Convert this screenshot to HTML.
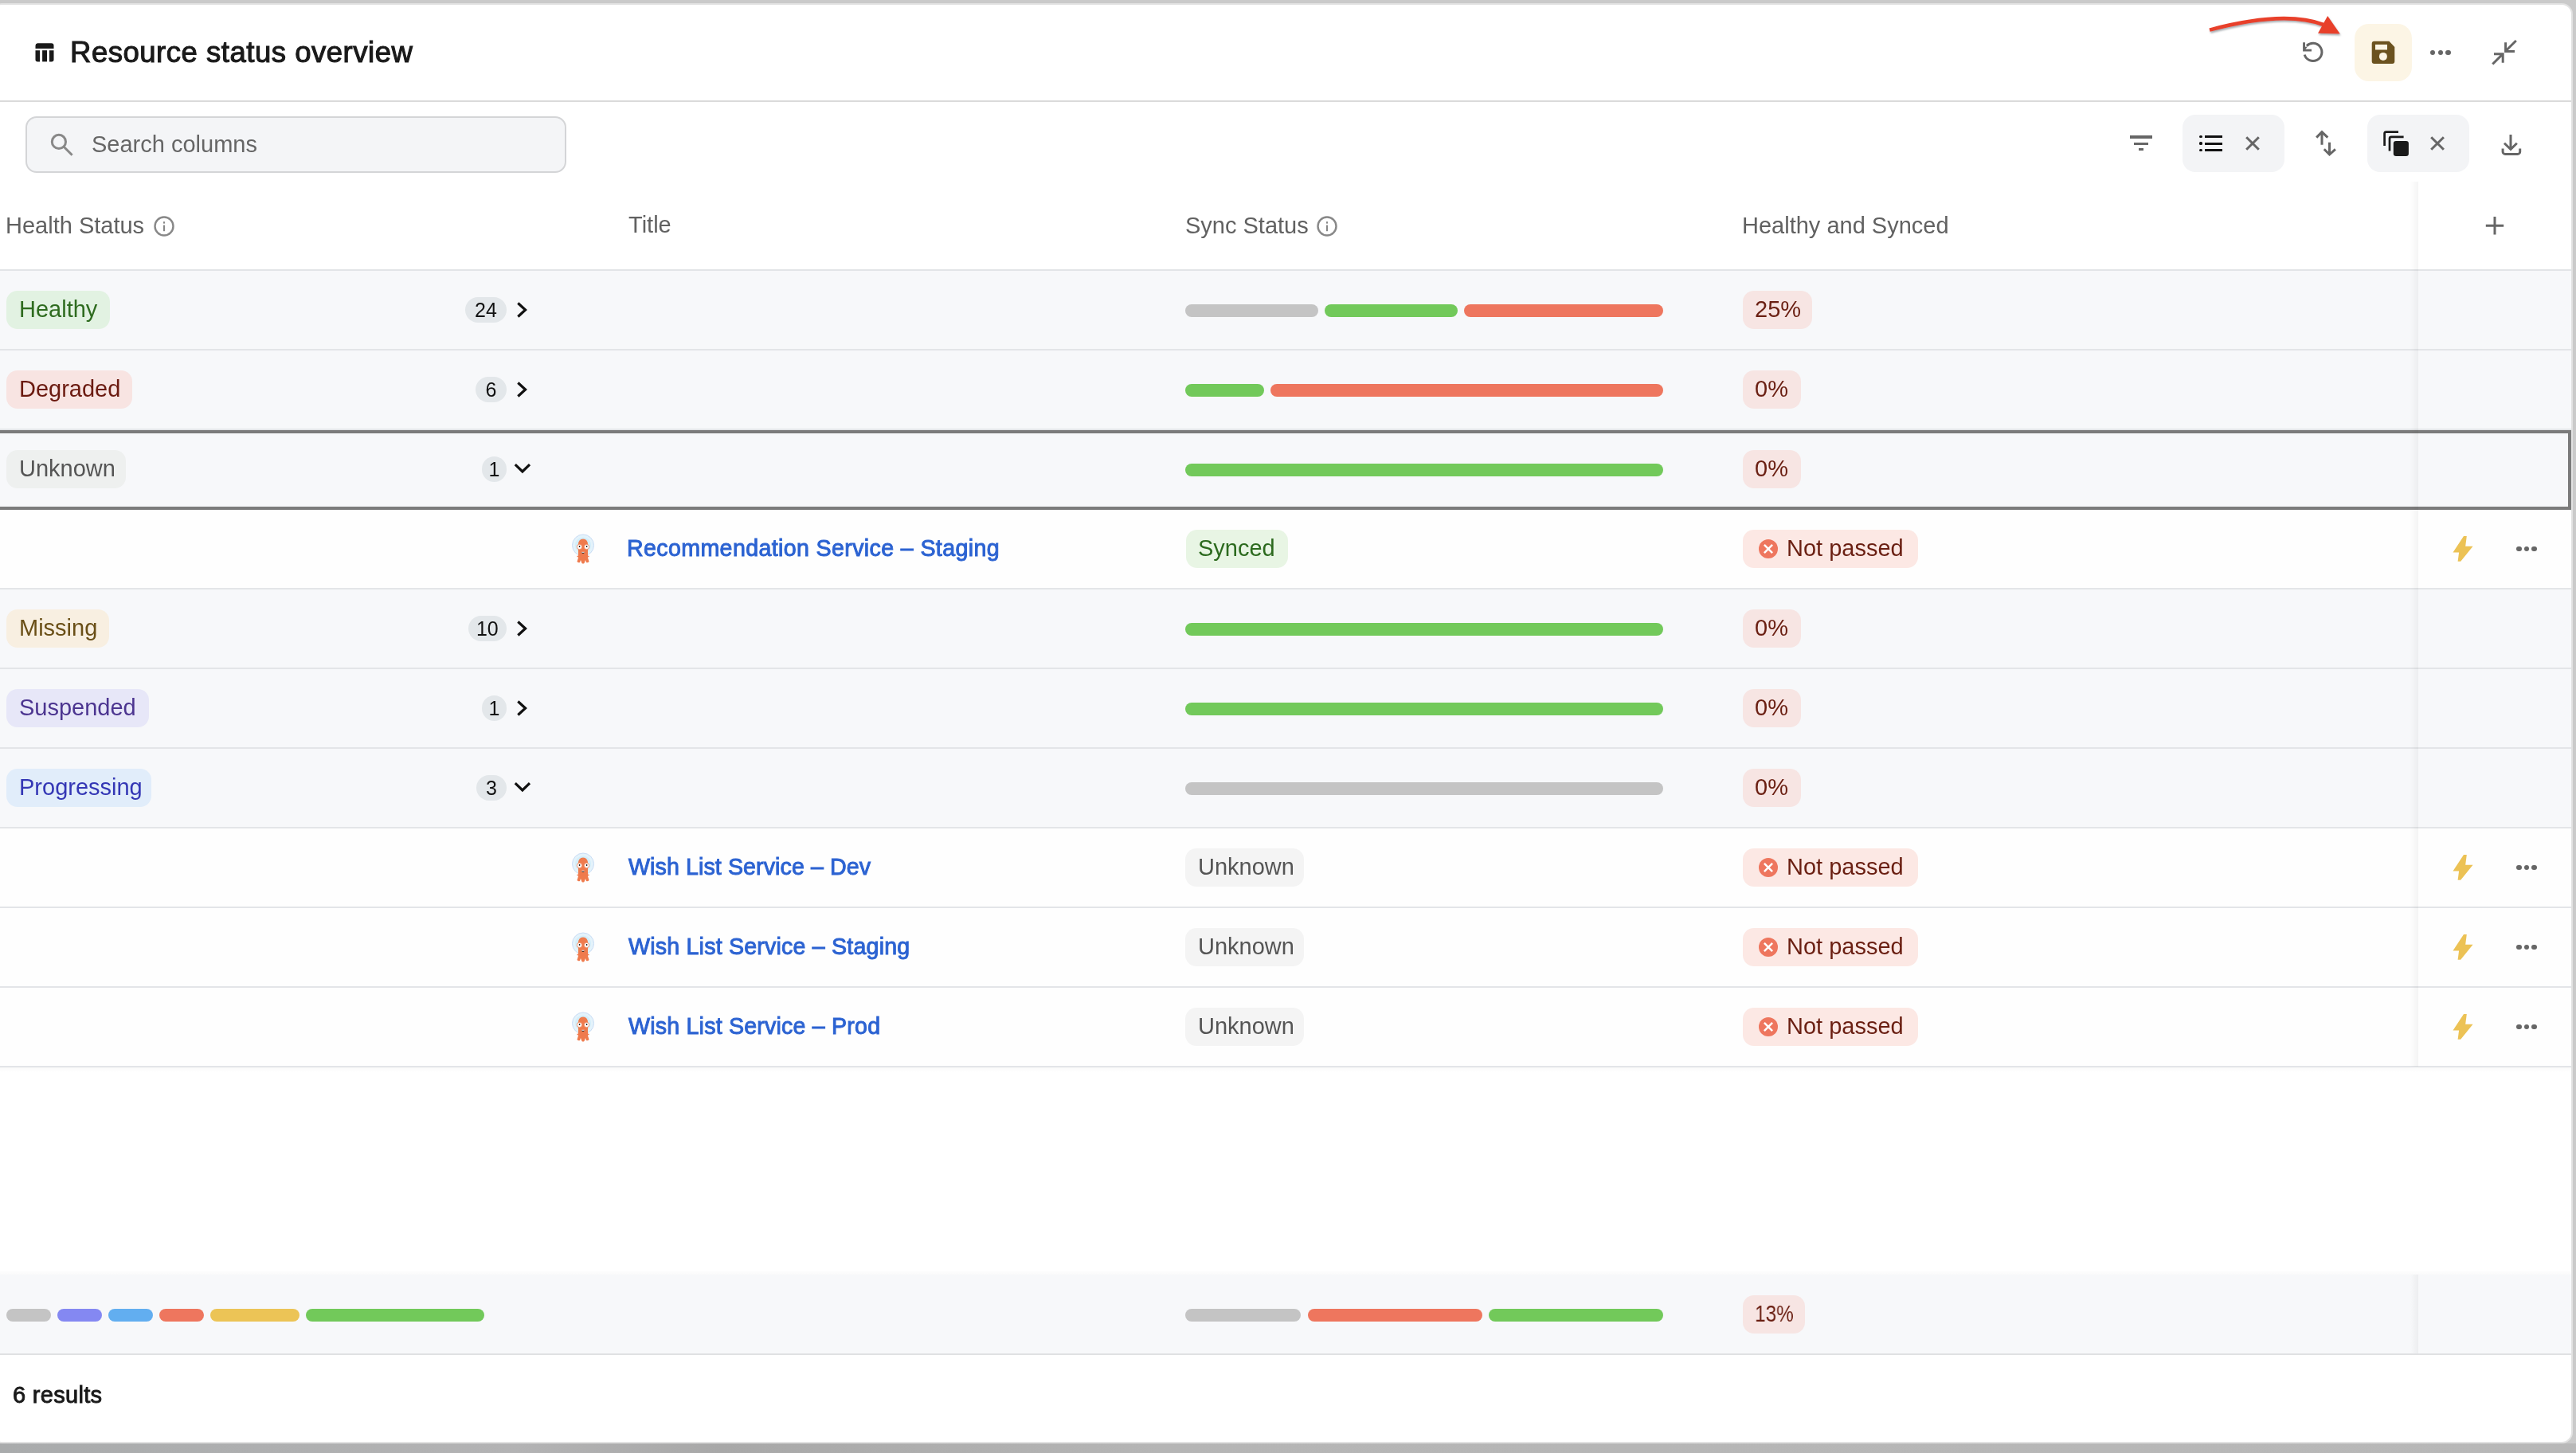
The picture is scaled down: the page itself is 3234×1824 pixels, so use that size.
<!DOCTYPE html><html><head><meta charset="utf-8"><title>Resource status overview</title><style>
html,body{margin:0;padding:0}
body{width:3234px;height:1824px;overflow:hidden;position:relative;background:#cacaca;
font-family:"Liberation Sans",sans-serif}
.t{position:absolute;white-space:nowrap;line-height:1;will-change:transform}
.b{position:absolute}
svg{position:absolute;overflow:visible}
</style></head><body><div class="b" style="left:0;top:1812px;width:3234px;height:12px;background:linear-gradient(90deg,#a9abac 0%,#b3b3b4 20%,#a8a8a8 28%,#b5b5b5 45%,#b8b8b8 100%)"></div><div class="b" style="left:-12px;top:4px;width:3238px;height:1804px;background:#fff;border:2px solid #e2e2e2;border-radius:14px"></div><svg style="left:44px;top:54px" width="24" height="24" viewBox="0 0 24 24"><path d="M3 0.3h17.5a3 3 0 0 1 3 3V6.9H0.5V3.3A3 3 0 0 1 3 0.3z" fill="#1a1a1a"/><path d="M0.5 9.2h5.5v14.2H3.2A2.7 2.7 0 0 1 0.5 20.7z" fill="#1a1a1a"/><rect x="9.1" y="9.2" width="5.9" height="14.2" fill="#1a1a1a"/><path d="M17.9 9.2h5.6v11.5a2.7 2.7 0 0 1-2.7 2.7h-2.9z" fill="#1a1a1a"/></svg><div class="t" style="left:87.8px;top:47.50px;font-size:36.5px;color:#1a1a1a;-webkit-text-stroke:1.1px #1a1a1a;letter-spacing:0.52px">Resource status overview</div><div class="b" style="left:0px;top:126px;width:3228px;height:2px;background:#dadada;border-radius:0px;"></div><svg style="left:0;top:0" width="3234" height="120" viewBox="0 0 3234 120"><defs><filter id="sh" x="-10%" y="-50%" width="120%" height="200%"><feDropShadow dx="1" dy="2" stdDeviation="1.2" flood-color="#5f6b70" flood-opacity="0.55"/></filter></defs><g filter="url(#sh)"><path d="M2774 37.6 Q2868 12.5 2917 31" fill="none" stroke="#e8402a" stroke-width="4.6"/><path d="M2922.2 20 L2937.7 42.4 L2910 41.7 Z" fill="#e8402a"/></g></svg><svg style="left:2880px;top:42px" width="48" height="48" viewBox="0 0 48 48"><path d="M15.9 15.6 A11.1 11.1 0 1 1 13.2 26.6" fill="none" stroke="#666" stroke-width="3"/><path d="M12.55 11.2 V21.1 H22" fill="none" stroke="#666" stroke-width="2.9"/><path d="M11.1 17 L16.9 16.4 L14 20.5 Z" fill="#666"/></svg><div class="b" style="left:2956px;top:30px;width:72px;height:72px;background:#fcf5e5;border-radius:18px;"></div><svg style="left:2977px;top:51px" width="30" height="30" viewBox="0 0 30 30"><path d="M3 0.7H22.4L29.3 7.9V26A3 3 0 0 1 26.3 29H3.7A3 3 0 0 1 0.7 26V3.7A3 3 0 0 1 3.7 0.7z" fill="#6b521f"/><rect x="5" y="4.9" width="15" height="6.6" fill="#fcf5e5"/><circle cx="14.9" cy="19.9" r="5" fill="#fcf5e5"/></svg><div class="b" style="left:3050.9px;top:62.5px;width:6.4px;height:6.4px;border-radius:50%;background:#666"></div><div class="b" style="left:3060.5px;top:62.5px;width:6.4px;height:6.4px;border-radius:50%;background:#666"></div><div class="b" style="left:3070.2px;top:62.5px;width:6.4px;height:6.4px;border-radius:50%;background:#666"></div><svg style="left:3120px;top:42px" width="48" height="48" viewBox="0 0 48 48"><path d="M38.8 9 L25 22.8 M25.6 11.3 V22.4 H37" fill="none" stroke="#666" stroke-width="3"/><path d="M9.3 38.5 L22 25.9 M11 25.7 H22.2 V36.7" fill="none" stroke="#666" stroke-width="3"/></svg><div class="b" style="left:32px;top:146px;width:675px;height:67px;background:#f4f5f7;border:2px solid #d4d5d7;border-radius:14px"></div><svg style="left:60px;top:164px" width="36" height="36" viewBox="0 0 36 36"><circle cx="13.9" cy="13.9" r="8.6" fill="none" stroke="#888" stroke-width="3"/><path d="M20.4 20.5 L30.6 30.7" stroke="#888" stroke-width="3"/></svg><div class="t" style="left:114.5px;top:166.85px;font-size:29px;color:#666;">Search columns</div><div class="b" style="left:2673.7px;top:170.4px;width:28.5px;height:3.4px;background:#666;border-radius:0px;"></div><div class="b" style="left:2678.6px;top:178.5px;width:18.9px;height:3.2px;background:#666;border-radius:0px;"></div><div class="b" style="left:2684.8px;top:186.2px;width:6.2px;height:3.2px;background:#666;border-radius:0px;"></div><div class="b" style="left:2740px;top:144px;width:128px;height:72px;background:#f3f4f6;border-radius:16px;"></div><div class="b" style="left:2761.4px;top:170.3px;width:3.2px;height:3.2px;border-radius:50%;background:#111"></div><div class="b" style="left:2768px;top:170.4px;width:22.2px;height:3px;background:#111;border-radius:0px;"></div><div class="b" style="left:2761.4px;top:178.4px;width:3.2px;height:3.2px;border-radius:50%;background:#111"></div><div class="b" style="left:2768px;top:178.5px;width:22.2px;height:3px;background:#111;border-radius:0px;"></div><div class="b" style="left:2761.4px;top:186.6px;width:3.2px;height:3.2px;border-radius:50%;background:#111"></div><div class="b" style="left:2768px;top:186.7px;width:22.2px;height:3px;background:#111;border-radius:0px;"></div><svg style="left:2810px;top:162px" width="36" height="36" viewBox="0 0 36 36"><path d="M10.2 10.3 L25.8 25.8 M25.8 10.3 L10.2 25.8" stroke="#666" stroke-width="3"/></svg><svg style="left:2900px;top:160px" width="40" height="40" viewBox="0 0 40 40"><path d="M15 5.5 V21.7 M8.2 12.6 L15 5.6 L22.3 12.6" fill="none" stroke="#666" stroke-width="3"/><path d="M24.5 18.8 V34.4 M17.8 27.3 L24.5 34 L31.9 27.3" fill="none" stroke="#666" stroke-width="3"/></svg><div class="b" style="left:2972px;top:144px;width:128px;height:72px;background:#f3f4f6;border-radius:16px;"></div><svg style="left:2985px;top:158px" width="44" height="44" viewBox="0 0 44 44"><path d="M8.6 25.1 V9.5 A2 2 0 0 1 10.6 7.6 H26" fill="none" stroke="#1a1a1a" stroke-width="2.7"/><path d="M15 31.4 V15.8 A2 2 0 0 1 17 13.9 H32.6" fill="none" stroke="#1a1a1a" stroke-width="2.7"/><rect x="19.8" y="18.9" width="19.1" height="19" rx="3.2" fill="#1a1a1a"/></svg><svg style="left:3042px;top:162px" width="36" height="36" viewBox="0 0 36 36"><path d="M10.2 10.2 L25.9 25.8 M25.9 10.2 L10.2 25.8" stroke="#666" stroke-width="3"/></svg><svg style="left:3132px;top:160px" width="40" height="40" viewBox="0 0 40 40"><path d="M20 9 V27 M12 19.7 L20 27.5 L27.8 19.7" fill="none" stroke="#666" stroke-width="3"/><path d="M10.1 26.5 V30.4 A3 3 0 0 0 13.1 33.4 H28.7 A3 3 0 0 0 31.7 30.4 V26.5" fill="none" stroke="#666" stroke-width="3"/></svg><div class="t" style="left:7px;top:268.95px;font-size:29px;color:#616161;">Health Status</div><svg style="left:192px;top:270px" width="28" height="28" viewBox="0 0 28 28"><circle cx="14" cy="14" r="11.5" fill="none" stroke="#888" stroke-width="2.4"/><rect x="12.9" y="8.2" width="2.2" height="2.4" fill="#888"/><rect x="12.9" y="12.6" width="2.2" height="7.6" fill="#888"/></svg><div class="t" style="left:789px;top:268.45px;font-size:29px;color:#616161;">Title</div><div class="t" style="left:1488px;top:268.95px;font-size:29px;color:#616161;">Sync Status</div><svg style="left:1652px;top:270px" width="28" height="28" viewBox="0 0 28 28"><circle cx="14" cy="14" r="11.5" fill="none" stroke="#888" stroke-width="2.4"/><rect x="12.9" y="8.2" width="2.2" height="2.4" fill="#888"/><rect x="12.9" y="12.6" width="2.2" height="7.6" fill="#888"/></svg><div class="t" style="left:2187.3px;top:268.95px;font-size:29px;color:#616161;">Healthy and Synced</div><svg style="left:3112px;top:263px" width="40" height="40" viewBox="0 0 40 40"><path d="M20 9 V31.5 M8.8 20.2 H31.2" stroke="#666" stroke-width="3"/></svg><div class="b" style="left:0px;top:338px;width:3228px;height:2px;background:#e2e4e7;border-radius:0px;"></div><div class="b" style="left:0px;top:340px;width:3228px;height:98px;background:#f7f8fa;border-radius:0px;"></div><div class="b" style="left:0px;top:438px;width:3228px;height:2px;background:#e3e5e8;border-radius:0px;"></div><div class="b" style="left:8.3px;top:365.2px;width:130px;height:47.5px;background:#e2f2e2;border-radius:14px;"></div><div class="t" style="left:23.8px;top:374.05px;font-size:29px;color:#2e6b1f;">Healthy</div><div class="b" style="left:584px;top:372.8px;width:52px;height:32.5px;background:#e3e7ea;border-radius:16.25px;"></div><div class="t" style="left:584px;width:52px;text-align:center;top:377.3px;font-size:25px;color:#111">24</div><svg style="left:640px;top:375px" width="30" height="28" viewBox="0 0 30 28"><path d="M10.3 5.5 L19.6 14 L10.3 22.5" fill="none" stroke="#111" stroke-width="3.2"/></svg><div class="b" style="left:1488px;top:382px;width:167px;height:16px;background:#c4c4c4;border-radius:8px;"></div><div class="b" style="left:1663px;top:382px;width:167px;height:16px;background:#72c95a;border-radius:8px;"></div><div class="b" style="left:1838px;top:382px;width:250px;height:16px;background:#ee765e;border-radius:8px;"></div><div class="b" style="left:2188px;top:365.2px;width:86.6px;height:47.5px;background:#f7e5e3;border-radius:14px;"></div><div class="t" style="left:2203px;top:374.05px;font-size:29px;color:#6a1f12;">25%</div><div class="b" style="left:0px;top:440px;width:3228px;height:98px;background:#f7f8fa;border-radius:0px;"></div><div class="b" style="left:0px;top:538px;width:3228px;height:2px;background:#e3e5e8;border-radius:0px;"></div><div class="b" style="left:8.3px;top:465.2px;width:158px;height:47.5px;background:#f8e4e2;border-radius:14px;"></div><div class="t" style="left:23.8px;top:474.05px;font-size:29px;color:#6b1a10;">Degraded</div><div class="b" style="left:597px;top:472.8px;width:39px;height:32.5px;background:#e3e7ea;border-radius:16.25px;"></div><div class="t" style="left:597px;width:39px;text-align:center;top:477.3px;font-size:25px;color:#111">6</div><svg style="left:640px;top:475px" width="30" height="28" viewBox="0 0 30 28"><path d="M10.3 5.5 L19.6 14 L10.3 22.5" fill="none" stroke="#111" stroke-width="3.2"/></svg><div class="b" style="left:1488px;top:482px;width:99px;height:16px;background:#72c95a;border-radius:8px;"></div><div class="b" style="left:1595px;top:482px;width:493px;height:16px;background:#ee765e;border-radius:8px;"></div><div class="b" style="left:2188px;top:465.2px;width:72.7px;height:47.5px;background:#f7e5e3;border-radius:14px;"></div><div class="t" style="left:2203px;top:474.05px;font-size:29px;color:#6a1f12;">0%</div><div class="b" style="left:0px;top:540px;width:3228px;height:98px;background:#f7f8fa;border-radius:0px;"></div><div class="b" style="left:0px;top:638px;width:3228px;height:2px;background:#e3e5e8;border-radius:0px;"></div><div class="b" style="left:8.3px;top:565.2px;width:149.5px;height:47.5px;background:#eef0ef;border-radius:14px;"></div><div class="t" style="left:23.8px;top:574.05px;font-size:29px;color:#555555;">Unknown</div><div class="b" style="left:605px;top:572.8px;width:31px;height:32.5px;background:#e3e7ea;border-radius:16.25px;"></div><div class="t" style="left:605px;width:31px;text-align:center;top:577.3px;font-size:25px;color:#111">1</div><svg style="left:640px;top:575px" width="30" height="28" viewBox="0 0 30 28"><path d="M6.8 8.2 L15.9 17 L25 8.2" fill="none" stroke="#111" stroke-width="3.2"/></svg><div class="b" style="left:1488px;top:582px;width:600px;height:16px;background:#72c95a;border-radius:8px;"></div><div class="b" style="left:2188px;top:565.2px;width:72.7px;height:47.5px;background:#f7e5e3;border-radius:14px;"></div><div class="t" style="left:2203px;top:574.05px;font-size:29px;color:#6a1f12;">0%</div><div class="b" style="left:0px;top:640px;width:3228px;height:98px;background:#fefefe;border-radius:0px;"></div><div class="b" style="left:0px;top:738px;width:3228px;height:2px;background:#e3e5e8;border-radius:0px;"></div><svg style="left:716px;top:670px" width="32" height="40" viewBox="0 0 32 40"><circle cx="16" cy="14.5" r="13.5" fill="#e4f3fb" stroke="#c9dcf5" stroke-width="1"/><circle cx="16" cy="14.5" r="10" fill="#d3eefa"/><path d="M10 14 Q10 6.5 16 6.5 Q22 6.5 22 14 V30 L23.5 35 Q22 37 20 36 L19 33 L17.5 37 Q16 38 14.5 37 L13 33 L12 36 Q10 37 8.5 35 L10 30 Z" fill="#ef7b4d"/><path d="M8.5 28.5 H23.5" stroke="#ef7b4d" stroke-width="1.6"/><circle cx="11.5" cy="16.5" r="3.2" fill="#fff" stroke="#ef7b4d" stroke-width="0.8"/><circle cx="20.5" cy="16.5" r="3.2" fill="#fff" stroke="#ef7b4d" stroke-width="0.8"/><circle cx="11.6" cy="16" r="0.9" fill="#111"/><circle cx="20.6" cy="16" r="0.9" fill="#111"/><path d="M13.8 23.2 Q16 26.6 18.2 23.2 Z" fill="#222"/><path d="M14.3 23.3 H17.7" stroke="#fff" stroke-width="0.9"/></svg><div class="t" style="left:787.3px;top:674.39px;font-size:28.6px;color:#2c63d2;-webkit-text-stroke:0.95px #2c63d2;letter-spacing:0.37px">Recommendation Service &#8211; Staging</div><div class="b" style="left:1488.5px;top:665.2px;width:128px;height:47.5px;background:#e8f5e4;border-radius:14px;"></div><div class="t" style="left:1504.0px;top:674.05px;font-size:29px;color:#2c6a1e;">Synced</div><div class="b" style="left:2188px;top:665.3px;width:220px;height:47.5px;background:#fce8e4;border-radius:14px;"></div><svg style="left:2206px;top:675px" width="28" height="28" viewBox="0 0 28 28"><circle cx="14" cy="14" r="12" fill="#ee765e"/><path d="M8.9 8.9 L19.1 19.1 M19.1 8.9 L8.9 19.1" stroke="#fff" stroke-width="2.5"/></svg><div class="t" style="left:2243px;top:674.05px;font-size:29px;color:#6a1f12;">Not passed</div><svg style="left:3070px;top:660px" width="50" height="60" viewBox="0 0 50 60"><path d="M23.0 13.1 L26.8 13.1 L25.2 25.8 L34.6 25.8 L19.2 44.8 L15.6 44.8 L17.1 33.5 L9.5 33.5 Z" fill="#ecc255"/></svg><div class="b" style="left:3159.2px;top:685.7px;width:6.6px;height:6.6px;border-radius:50%;background:#666"></div><div class="b" style="left:3168.7px;top:685.7px;width:6.6px;height:6.6px;border-radius:50%;background:#666"></div><div class="b" style="left:3178.2px;top:685.7px;width:6.6px;height:6.6px;border-radius:50%;background:#666"></div><div class="b" style="left:0px;top:740px;width:3228px;height:98px;background:#f7f8fa;border-radius:0px;"></div><div class="b" style="left:0px;top:838px;width:3228px;height:2px;background:#e3e5e8;border-radius:0px;"></div><div class="b" style="left:8.3px;top:765.2px;width:128.5px;height:47.5px;background:#f8efe1;border-radius:14px;"></div><div class="t" style="left:23.8px;top:774.05px;font-size:29px;color:#6a4f17;">Missing</div><div class="b" style="left:588.4px;top:772.8px;width:47.6px;height:32.5px;background:#e3e7ea;border-radius:16.25px;"></div><div class="t" style="left:588.4px;width:47.6px;text-align:center;top:777.3px;font-size:25px;color:#111">10</div><svg style="left:640px;top:775px" width="30" height="28" viewBox="0 0 30 28"><path d="M10.3 5.5 L19.6 14 L10.3 22.5" fill="none" stroke="#111" stroke-width="3.2"/></svg><div class="b" style="left:1488px;top:782px;width:600px;height:16px;background:#72c95a;border-radius:8px;"></div><div class="b" style="left:2188px;top:765.2px;width:72.7px;height:47.5px;background:#f7e5e3;border-radius:14px;"></div><div class="t" style="left:2203px;top:774.05px;font-size:29px;color:#6a1f12;">0%</div><div class="b" style="left:0px;top:840px;width:3228px;height:98px;background:#f7f8fa;border-radius:0px;"></div><div class="b" style="left:0px;top:938px;width:3228px;height:2px;background:#e3e5e8;border-radius:0px;"></div><div class="b" style="left:8.3px;top:865.2px;width:179px;height:47.5px;background:#e7e7f8;border-radius:14px;"></div><div class="t" style="left:23.8px;top:874.05px;font-size:29px;color:#4c3590;">Suspended</div><div class="b" style="left:605px;top:872.8px;width:31px;height:32.5px;background:#e3e7ea;border-radius:16.25px;"></div><div class="t" style="left:605px;width:31px;text-align:center;top:877.3px;font-size:25px;color:#111">1</div><svg style="left:640px;top:875px" width="30" height="28" viewBox="0 0 30 28"><path d="M10.3 5.5 L19.6 14 L10.3 22.5" fill="none" stroke="#111" stroke-width="3.2"/></svg><div class="b" style="left:1488px;top:882px;width:600px;height:16px;background:#72c95a;border-radius:8px;"></div><div class="b" style="left:2188px;top:865.2px;width:72.7px;height:47.5px;background:#f7e5e3;border-radius:14px;"></div><div class="t" style="left:2203px;top:874.05px;font-size:29px;color:#6a1f12;">0%</div><div class="b" style="left:0px;top:940px;width:3228px;height:98px;background:#f7f8fa;border-radius:0px;"></div><div class="b" style="left:0px;top:1038px;width:3228px;height:2px;background:#e3e5e8;border-radius:0px;"></div><div class="b" style="left:8.3px;top:965.2px;width:181.5px;height:47.5px;background:#e1edfa;border-radius:14px;"></div><div class="t" style="left:23.8px;top:974.05px;font-size:29px;color:#3437b5;">Progressing</div><div class="b" style="left:598px;top:972.8px;width:38px;height:32.5px;background:#e3e7ea;border-radius:16.25px;"></div><div class="t" style="left:598px;width:38px;text-align:center;top:977.3px;font-size:25px;color:#111">3</div><svg style="left:640px;top:975px" width="30" height="28" viewBox="0 0 30 28"><path d="M6.8 8.2 L15.9 17 L25 8.2" fill="none" stroke="#111" stroke-width="3.2"/></svg><div class="b" style="left:1488px;top:982px;width:600px;height:16px;background:#c4c4c4;border-radius:8px;"></div><div class="b" style="left:2188px;top:965.2px;width:72.7px;height:47.5px;background:#f7e5e3;border-radius:14px;"></div><div class="t" style="left:2203px;top:974.05px;font-size:29px;color:#6a1f12;">0%</div><div class="b" style="left:0px;top:1040px;width:3228px;height:98px;background:#fefefe;border-radius:0px;"></div><div class="b" style="left:0px;top:1138px;width:3228px;height:2px;background:#e3e5e8;border-radius:0px;"></div><svg style="left:716px;top:1070px" width="32" height="40" viewBox="0 0 32 40"><circle cx="16" cy="14.5" r="13.5" fill="#e4f3fb" stroke="#c9dcf5" stroke-width="1"/><circle cx="16" cy="14.5" r="10" fill="#d3eefa"/><path d="M10 14 Q10 6.5 16 6.5 Q22 6.5 22 14 V30 L23.5 35 Q22 37 20 36 L19 33 L17.5 37 Q16 38 14.5 37 L13 33 L12 36 Q10 37 8.5 35 L10 30 Z" fill="#ef7b4d"/><path d="M8.5 28.5 H23.5" stroke="#ef7b4d" stroke-width="1.6"/><circle cx="11.5" cy="16.5" r="3.2" fill="#fff" stroke="#ef7b4d" stroke-width="0.8"/><circle cx="20.5" cy="16.5" r="3.2" fill="#fff" stroke="#ef7b4d" stroke-width="0.8"/><circle cx="11.6" cy="16" r="0.9" fill="#111"/><circle cx="20.6" cy="16" r="0.9" fill="#111"/><path d="M13.8 23.2 Q16 26.6 18.2 23.2 Z" fill="#222"/><path d="M14.3 23.3 H17.7" stroke="#fff" stroke-width="0.9"/></svg><div class="t" style="left:789px;top:1074.39px;font-size:28.6px;color:#2c63d2;-webkit-text-stroke:0.95px #2c63d2;letter-spacing:0.1px">Wish List Service &#8211; Dev</div><div class="b" style="left:1488px;top:1065.2px;width:149px;height:47.5px;background:#f4f4f4;border-radius:14px;"></div><div class="t" style="left:1503.5px;top:1074.05px;font-size:29px;color:#555555;">Unknown</div><div class="b" style="left:2188px;top:1065.3px;width:220px;height:47.5px;background:#fce8e4;border-radius:14px;"></div><svg style="left:2206px;top:1075px" width="28" height="28" viewBox="0 0 28 28"><circle cx="14" cy="14" r="12" fill="#ee765e"/><path d="M8.9 8.9 L19.1 19.1 M19.1 8.9 L8.9 19.1" stroke="#fff" stroke-width="2.5"/></svg><div class="t" style="left:2243px;top:1074.05px;font-size:29px;color:#6a1f12;">Not passed</div><svg style="left:3070px;top:660px" width="50" height="60" viewBox="0 0 50 60"><path d="M23.0 413.1 L26.8 413.1 L25.2 425.8 L34.6 425.8 L19.2 444.8 L15.6 444.8 L17.1 433.5 L9.5 433.5 Z" fill="#ecc255"/></svg><div class="b" style="left:3159.2px;top:1085.7px;width:6.6px;height:6.6px;border-radius:50%;background:#666"></div><div class="b" style="left:3168.7px;top:1085.7px;width:6.6px;height:6.6px;border-radius:50%;background:#666"></div><div class="b" style="left:3178.2px;top:1085.7px;width:6.6px;height:6.6px;border-radius:50%;background:#666"></div><div class="b" style="left:0px;top:1140px;width:3228px;height:98px;background:#fefefe;border-radius:0px;"></div><div class="b" style="left:0px;top:1238px;width:3228px;height:2px;background:#e3e5e8;border-radius:0px;"></div><svg style="left:716px;top:1170px" width="32" height="40" viewBox="0 0 32 40"><circle cx="16" cy="14.5" r="13.5" fill="#e4f3fb" stroke="#c9dcf5" stroke-width="1"/><circle cx="16" cy="14.5" r="10" fill="#d3eefa"/><path d="M10 14 Q10 6.5 16 6.5 Q22 6.5 22 14 V30 L23.5 35 Q22 37 20 36 L19 33 L17.5 37 Q16 38 14.5 37 L13 33 L12 36 Q10 37 8.5 35 L10 30 Z" fill="#ef7b4d"/><path d="M8.5 28.5 H23.5" stroke="#ef7b4d" stroke-width="1.6"/><circle cx="11.5" cy="16.5" r="3.2" fill="#fff" stroke="#ef7b4d" stroke-width="0.8"/><circle cx="20.5" cy="16.5" r="3.2" fill="#fff" stroke="#ef7b4d" stroke-width="0.8"/><circle cx="11.6" cy="16" r="0.9" fill="#111"/><circle cx="20.6" cy="16" r="0.9" fill="#111"/><path d="M13.8 23.2 Q16 26.6 18.2 23.2 Z" fill="#222"/><path d="M14.3 23.3 H17.7" stroke="#fff" stroke-width="0.9"/></svg><div class="t" style="left:789px;top:1174.39px;font-size:28.6px;color:#2c63d2;-webkit-text-stroke:0.95px #2c63d2;letter-spacing:0.2px">Wish List Service &#8211; Staging</div><div class="b" style="left:1488px;top:1165.2px;width:149px;height:47.5px;background:#f4f4f4;border-radius:14px;"></div><div class="t" style="left:1503.5px;top:1174.05px;font-size:29px;color:#555555;">Unknown</div><div class="b" style="left:2188px;top:1165.3px;width:220px;height:47.5px;background:#fce8e4;border-radius:14px;"></div><svg style="left:2206px;top:1175px" width="28" height="28" viewBox="0 0 28 28"><circle cx="14" cy="14" r="12" fill="#ee765e"/><path d="M8.9 8.9 L19.1 19.1 M19.1 8.9 L8.9 19.1" stroke="#fff" stroke-width="2.5"/></svg><div class="t" style="left:2243px;top:1174.05px;font-size:29px;color:#6a1f12;">Not passed</div><svg style="left:3070px;top:660px" width="50" height="60" viewBox="0 0 50 60"><path d="M23.0 513.1 L26.8 513.1 L25.2 525.8 L34.6 525.8 L19.2 544.8 L15.6 544.8 L17.1 533.5 L9.5 533.5 Z" fill="#ecc255"/></svg><div class="b" style="left:3159.2px;top:1185.7px;width:6.6px;height:6.6px;border-radius:50%;background:#666"></div><div class="b" style="left:3168.7px;top:1185.7px;width:6.6px;height:6.6px;border-radius:50%;background:#666"></div><div class="b" style="left:3178.2px;top:1185.7px;width:6.6px;height:6.6px;border-radius:50%;background:#666"></div><div class="b" style="left:0px;top:1240px;width:3228px;height:98px;background:#fefefe;border-radius:0px;"></div><div class="b" style="left:0px;top:1338px;width:3228px;height:2px;background:#e3e5e8;border-radius:0px;"></div><svg style="left:716px;top:1270px" width="32" height="40" viewBox="0 0 32 40"><circle cx="16" cy="14.5" r="13.5" fill="#e4f3fb" stroke="#c9dcf5" stroke-width="1"/><circle cx="16" cy="14.5" r="10" fill="#d3eefa"/><path d="M10 14 Q10 6.5 16 6.5 Q22 6.5 22 14 V30 L23.5 35 Q22 37 20 36 L19 33 L17.5 37 Q16 38 14.5 37 L13 33 L12 36 Q10 37 8.5 35 L10 30 Z" fill="#ef7b4d"/><path d="M8.5 28.5 H23.5" stroke="#ef7b4d" stroke-width="1.6"/><circle cx="11.5" cy="16.5" r="3.2" fill="#fff" stroke="#ef7b4d" stroke-width="0.8"/><circle cx="20.5" cy="16.5" r="3.2" fill="#fff" stroke="#ef7b4d" stroke-width="0.8"/><circle cx="11.6" cy="16" r="0.9" fill="#111"/><circle cx="20.6" cy="16" r="0.9" fill="#111"/><path d="M13.8 23.2 Q16 26.6 18.2 23.2 Z" fill="#222"/><path d="M14.3 23.3 H17.7" stroke="#fff" stroke-width="0.9"/></svg><div class="t" style="left:789px;top:1274.39px;font-size:28.6px;color:#2c63d2;-webkit-text-stroke:0.95px #2c63d2;letter-spacing:0.2px">Wish List Service &#8211; Prod</div><div class="b" style="left:1488px;top:1265.2px;width:149px;height:47.5px;background:#f4f4f4;border-radius:14px;"></div><div class="t" style="left:1503.5px;top:1274.05px;font-size:29px;color:#555555;">Unknown</div><div class="b" style="left:2188px;top:1265.3px;width:220px;height:47.5px;background:#fce8e4;border-radius:14px;"></div><svg style="left:2206px;top:1275px" width="28" height="28" viewBox="0 0 28 28"><circle cx="14" cy="14" r="12" fill="#ee765e"/><path d="M8.9 8.9 L19.1 19.1 M19.1 8.9 L8.9 19.1" stroke="#fff" stroke-width="2.5"/></svg><div class="t" style="left:2243px;top:1274.05px;font-size:29px;color:#6a1f12;">Not passed</div><svg style="left:3070px;top:660px" width="50" height="60" viewBox="0 0 50 60"><path d="M23.0 613.1 L26.8 613.1 L25.2 625.8 L34.6 625.8 L19.2 644.8 L15.6 644.8 L17.1 633.5 L9.5 633.5 Z" fill="#ecc255"/></svg><div class="b" style="left:3159.2px;top:1285.7px;width:6.6px;height:6.6px;border-radius:50%;background:#666"></div><div class="b" style="left:3168.7px;top:1285.7px;width:6.6px;height:6.6px;border-radius:50%;background:#666"></div><div class="b" style="left:3178.2px;top:1285.7px;width:6.6px;height:6.6px;border-radius:50%;background:#666"></div><div class="b" style="left:-10px;top:540px;width:3230px;height:92px;border:4px solid #7b7b7b"></div><div class="b" style="left:3026px;top:228px;width:10px;height:1111px;background:linear-gradient(90deg,rgba(0,0,0,0) 0%,rgba(0,0,0,0.045) 100%)"></div><div class="b" style="left:0;top:1340px;width:3228px;height:6px;background:linear-gradient(180deg,rgba(0,0,0,0.025),rgba(0,0,0,0))"></div><div class="b" style="left:0;top:1594px;width:3228px;height:6px;background:linear-gradient(0deg,rgba(0,0,0,0.02),rgba(0,0,0,0))"></div><div class="b" style="left:0px;top:1600px;width:3228px;height:100px;background:#f7f8fa;border-radius:0px;"></div><div class="b" style="left:0px;top:1699px;width:3228px;height:2px;background:#e0e1e3;border-radius:0px;"></div><div class="b" style="left:3026px;top:1600px;width:10px;height:99px;background:linear-gradient(90deg,rgba(0,0,0,0) 0%,rgba(0,0,0,0.045) 100%)"></div><div class="b" style="left:8px;top:1643px;width:56.2px;height:16px;background:#c4c4c4;border-radius:8px;"></div><div class="b" style="left:71.8px;top:1643px;width:56.2px;height:16px;background:#8488f2;border-radius:8px;"></div><div class="b" style="left:136px;top:1643px;width:55.8px;height:16px;background:#62aef0;border-radius:8px;"></div><div class="b" style="left:200px;top:1643px;width:56px;height:16px;background:#ee765e;border-radius:8px;"></div><div class="b" style="left:264.3px;top:1643px;width:111.3px;height:16px;background:#ecc456;border-radius:8px;"></div><div class="b" style="left:384px;top:1643px;width:224px;height:16px;background:#72c95a;border-radius:8px;"></div><div class="b" style="left:1487.6px;top:1643px;width:145.9px;height:16px;background:#c4c4c4;border-radius:8px;"></div><div class="b" style="left:1642px;top:1643px;width:218.6px;height:16px;background:#ee765e;border-radius:8px;"></div><div class="b" style="left:1869px;top:1643px;width:218.7px;height:16px;background:#72c95a;border-radius:8px;"></div><div class="b" style="left:2188px;top:1626.0px;width:78.4px;height:48px;background:#f7e5e3;border-radius:14px;"></div><div class="t" style="left:2202.5px;top:1635.05px;font-size:29px;color:#6a1f12;transform:scaleX(0.84);transform-origin:0 0">13%</div><div class="t" style="left:16.2px;top:1736.65px;font-size:29px;color:#1a1a1a;-webkit-text-stroke:0.9px #1a1a1a;letter-spacing:0.3px">6 results</div></body></html>
